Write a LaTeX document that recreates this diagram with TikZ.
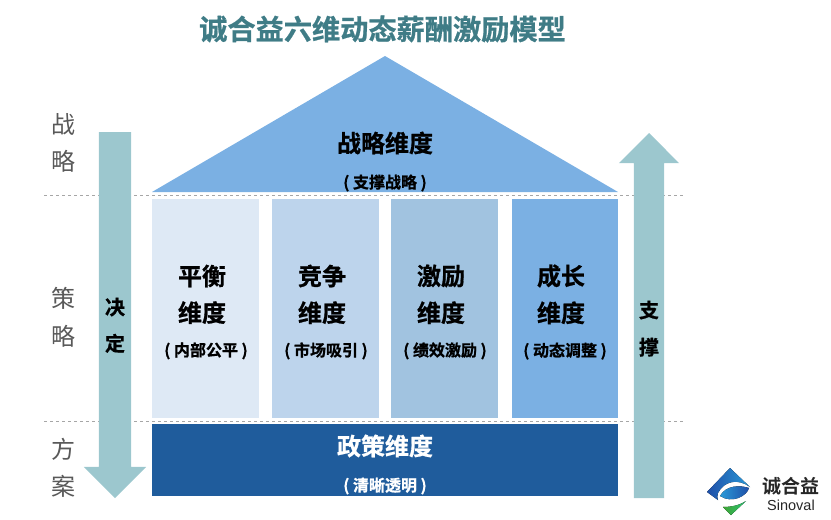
\documentclass[tikz,border=0pt]{standalone}
\usepackage{fontspec}
\setmainfont{Noto Sans CJK SC}
\newfontfamily\boldcjk[FakeBold=0.8]{Noto Sans CJK SC Bold}
\newfontfamily\logocjk{Noto Sans CJK SC Bold}
\newfontfamily\logolatin{Liberation Sans}
\usetikzlibrary{positioning, shapes.arrows}

\definecolor{titleteal}{HTML}{3F7C86}
\definecolor{arrowteal}{HTML}{9CC7CE}
\definecolor{roofblue}{HTML}{7BB0E3}
\definecolor{pillarone}{HTML}{DEE9F5}
\definecolor{pillartwo}{HTML}{BDD4EC}
\definecolor{pillarthree}{HTML}{A1C3E0}
\definecolor{policyblue}{HTML}{1F5C9C}
\definecolor{sidegrey}{HTML}{595959}
\definecolor{logodark}{HTML}{1F4FA8}
\definecolor{logolight}{HTML}{2A9AD8}
\definecolor{logogreen}{HTML}{3FA535}

\begin{document}
\begin{tikzpicture}[
	x=1pt, y=-1pt,
	pillar/.style={rectangle, inner sep=0pt, outer sep=0pt, minimum width=107pt, minimum height=219pt, anchor=north west},
	pillarhead/.style={inner sep=0pt, font=\boldcjk\fontsize{24}{24}\selectfont},
	pillarsub/.style={inner sep=0pt, font=\boldcjk\fontsize{16}{16}\selectfont},
	sidetext/.style={inner sep=0pt, text=sidegrey, font=\fontsize{24}{24}\selectfont},
	arrowtext/.style={inner sep=0pt, font=\boldcjk\fontsize{20}{20}\selectfont},
	bigarrow/.style={single arrow, fill=arrowteal, inner xsep=0pt, outer sep=0pt, single arrow head extend=15pt, anchor=tip},
	level/.style={dashed, gray!70!white, line width=0.7pt}
]
\useasboundingbox (0,0) rectangle (831,520);

\node[inner sep=0pt, text=titleteal, font=\boldcjk\fontsize{28.2}{28}\selectfont] (title) at (382.5,29) {诚合益六维动态薪酬激励模型};

% roof
\coordinate (roofleft) at (152,192);
\coordinate (roofright) at (618,192);
\coordinate (roofapex) at (385,56);
\fill[roofblue] (roofleft) -- (roofapex) -- (roofright) -- cycle;
\node[pillarhead] (strategyhead) at (385,143) {战略维度};
\node[pillarsub] (strategysub) at (385,183) {( 支撑战略 )};

% levels
\coordinate (levelAl) at (44,195.5);
\coordinate (levelAr) at (685,195.5);
\coordinate (levelBl) at (44,421);
\coordinate (levelBr) at (685,421);
\draw[level] (levelAl) -- (levelAr);
\draw[level] (levelBl) -- (levelBr);

% pillars
\node[pillar, fill=pillarone] (balance) at (152,199) {};
\node[pillar, fill=pillartwo, right=13pt of balance.north east, anchor=north west] (compete) {};
\node[pillar, fill=pillarthree, right=12pt of compete.north east, anchor=north west] (incent) {};
\node[pillar, fill=roofblue, minimum width=106pt, right=14pt of incent.north east, anchor=north west] (growth) {};

\node[pillarhead] (balancehead) at (202,276) {平衡};
\node[pillarhead, below=13.5pt of balancehead] (balancedim) {维度};
\node[pillarsub, below=18pt of balancedim, xshift=4pt] (balancesub) {( 内部公平 )};

\node[pillarhead] (competehead) at (322,276) {竞争};
\node[pillarhead, below=13.5pt of competehead] (competedim) {维度};
\node[pillarsub, below=18pt of competedim, xshift=4pt] (competesub) {( 市场吸引 )};

\node[pillarhead] (incenthead) at (441,276) {激励};
\node[pillarhead, below=13.5pt of incenthead] (incentdim) {维度};
\node[pillarsub, below=18pt of incentdim, xshift=4pt] (incentsub) {( 绩效激励 )};

\node[pillarhead] (growthhead) at (561,276) {成长};
\node[pillarhead, below=13.5pt of growthhead] (growthdim) {维度};
\node[pillarsub, below=18pt of growthdim, xshift=4pt] (growthsub) {( 动态调整 )};

% policy base
\node[rectangle, inner sep=0pt, outer sep=0pt, fill=policyblue, minimum width=466pt, minimum height=72pt, anchor=north west] (policy) at (152,424) {};
\node[pillarhead, text=white] (policyhead) at (385,446) {政策维度};
\node[pillarsub, text=white] (policysub) at (385,486) {( 清晰透明 )};

% side arrows
\node[bigarrow, rotate=-90, inner ysep=16pt, minimum height=366pt] (decide) at (115,498) {};
\node[bigarrow, rotate=90, inner ysep=15pt, minimum height=365pt] (support) at (649,133) {};
\node[arrowtext] (decideA) at (115,307) {决};
\node[arrowtext, below=17pt of decideA] (decideB) {定};
\node[arrowtext] (supportA) at (649,310) {支};
\node[arrowtext, below=18pt of supportA] (supportB) {撑};

% side labels
\node[sidetext] (sideA) at (64,124) {战};
\node[sidetext, below=15pt of sideA] (sideB) {略};
\node[sidetext] (sideC) at (64,298) {策};
\node[sidetext, below=16pt of sideC] (sideD) {略};
\node[sidetext] (sideE) at (64,449) {方};
\node[sidetext, below=15pt of sideE] (sideF) {案};

% logo
\fill[left color=logodark, right color=logolight] (707,492) -- (730,468) -- (750,487) .. controls (738,478) and (724,481) .. (718,493) .. controls (717,496) and (717,498) .. (718,500) -- cycle;
\fill[left color=logolight, right color=logodark] (720,496) .. controls (726,485) and (740,485) .. (749,488) .. controls (747,496) and (732,504) .. (720,496) -- cycle;
\fill[left color=logogreen, right color=logogreen!70!cyan] (723,507) .. controls (732,507) and (740,505) .. (746,501) -- (731,515) -- cycle;
\node[inner sep=0pt, text=black!85, font=\logocjk\fontsize{19}{19}\selectfont] (logoname) at (791,486) {诚合益};
\node[inner sep=0pt, text=black!85, font=\logolatin\fontsize{14.5}{15}\selectfont] (logotext) at (791,505) {Sinoval};

\end{tikzpicture}
\end{document}
